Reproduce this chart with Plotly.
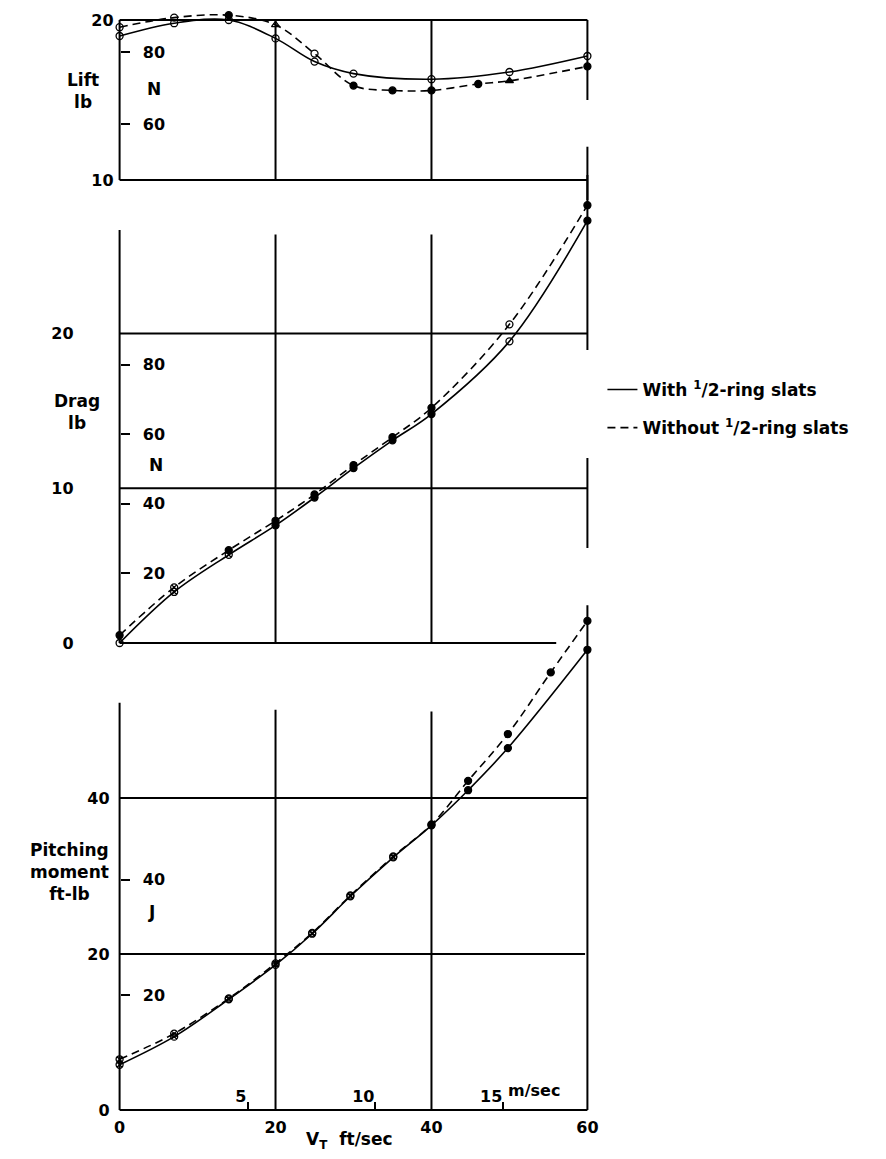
import plotly.graph_objects as go

# ---------------- data ----------------
V_lift_with = [0, 7, 14, 20, 25, 30, 40, 50, 60]
lift_with = [19.0, 19.8, 20.0, 18.85, 17.4, 16.65, 16.3, 16.75, 17.75]
V_lift_without = [0, 7, 14, 20, 25, 30, 35, 40, 46, 50, 60]
lift_without = [19.55, 20.15, 20.3, 19.7, 17.9, 15.9, 15.6, 15.6, 16.0, 16.2, 17.1]

V_drag = [0, 7, 14, 20, 25, 30, 35, 40, 50, 60]
drag_with = [0.0, 3.3, 5.7, 7.6, 9.4, 11.3, 13.1, 14.8, 19.5, 27.3]
drag_without = [0.5, 3.6, 6.0, 7.9, 9.6, 11.5, 13.3, 15.2, 20.6, 28.3]

V_pitch_with = [0, 7, 14, 20, 24.7, 29.6, 35.1, 40, 44.7, 49.8, 60]
pitch_with = [5.8, 9.4, 14.2, 18.6, 22.6, 27.4, 32.4, 36.5, 41.0, 46.4, 59.0]
V_pitch_without = [0, 7, 14, 20, 24.7, 29.6, 35.1, 40, 44.7, 49.8, 55.3, 60]
pitch_without = [6.5, 9.8, 14.3, 18.8, 22.7, 27.5, 32.5, 36.6, 42.2, 48.2, 56.1, 62.7]

x_ticks = [0, 20, 40, 60]
ms_ticks = [5, 10, 15]
lift_ticks = [10, 20]
drag_ticks = [0, 10, 20]
pitch_ticks = [0, 20, 40]
N_lift_ticks = [60, 80]
N_drag_ticks = [20, 40, 60, 80]
J_ticks = [20, 40]
series_names = ["With <sup>1</sup>/2-ring slats", "Without <sup>1</sup>/2-ring slats"]

LB_TO_N = 4.44822
FTLB_TO_J = 1.35582
FT_TO_M = 0.3048

# ---------------- layout geometry (page pixels) ----------------
W, H_PAGE = 886, 1159
OFF = 8                       # default page body margin
FIG_W, FIG_H = W - 2 * OFF, H_PAGE - 2 * OFF
PXU = (587 - 120) / 60.0      # px per ft/s
XR = [-2, 62]
L_PAGE = 120 + XR[0] * PXU
R_PAGE = 587 + (XR[1] - 60) * PXU
PT, PB = OFF, 1125            # plot area top / bottom (page px)


def xp(px):
    return (px - L_PAGE) / (R_PAGE - L_PAGE)


def yp(py):
    return (PB - py) / (PB - PT)


def dom(top, bottom):
    return [yp(bottom), yp(top)]


# lift panel: 10 lb at py 180, 16 px/lb
lift_px, lift_ref_py, lift_base = 16.0, 180.0, 10.0
lift_top, lift_bot = PT, 200
lift_range = [lift_base - (lift_bot - lift_ref_py) / lift_px,
              lift_base + (lift_ref_py - lift_top) / lift_px]
# drag panel: 0 lb at py 643, 15.47 px/lb
drag_px, drag_zero = 15.47, 643.0
drag_top, drag_bot = 150, 662
drag_range = [-(drag_bot - drag_zero) / drag_px, (drag_zero - drag_top) / drag_px]
# pitching panel: 0 at py 1110, 7.8 px/ft-lb
pit_px, pit_zero = 7.8, 1110.0
pit_top, pit_bot = 600, PB
pit_range = [-(pit_bot - pit_zero) / pit_px, (pit_zero - pit_top) / pit_px]

FONT = "DejaVu Sans"
BLK = "black"
dash = "8px,5px"

fig = go.Figure()


def curve(x, y, yaxis, dashed, name=None, legend=False, group=None):
    fig.add_trace(go.Scatter(
        x=x, y=y, mode="lines", xaxis="x", yaxis=yaxis,
        line=dict(color=BLK, width=1.6, shape="spline", smoothing=1.0,
                  dash=dash if dashed else "solid"),
        name=name, showlegend=legend, legendgroup=group, hoverinfo="skip"))


def points(x, y, yaxis, symbols):
    fig.add_trace(go.Scatter(
        x=x, y=y, mode="markers", xaxis="x", yaxis=yaxis, showlegend=False,
        marker=dict(symbol=symbols, size=7, color=BLK, line=dict(color=BLK, width=1.3)),
        cliponaxis=False, hoverinfo="skip"))


# Lift
curve(V_lift_with, lift_with, "y", False, series_names[0], True, "a")
curve(V_lift_without, lift_without, "y", True, series_names[1], True, "b")
points(V_lift_with, lift_with, "y", "circle-open")
points(V_lift_without, lift_without, "y",
       ["circle-open", "circle-open", "circle", "triangle-up-open", "circle-open", "circle",
        "circle", "circle", "circle", "triangle-up", "circle"])
# Drag
curve(V_drag, drag_with, "y2", False)
curve(V_drag, drag_without, "y2", True)
points(V_drag, drag_with, "y2",
       ["circle-open", "circle-x-open", "circle-x-open", "circle", "circle", "circle",
        "circle", "circle", "circle-open", "circle"])
points(V_drag, drag_without, "y2",
       ["circle", "circle-x-open", "circle", "circle", "circle", "circle",
        "circle", "circle", "circle-open", "circle"])
# Pitching moment
curve(V_pitch_with, pitch_with, "y3", False)
curve(V_pitch_without, pitch_without, "y3", True)
points(V_pitch_with, pitch_with, "y3", ["circle-x-open"] * 7 + ["circle"] * 4)
points(V_pitch_without, pitch_without, "y3", ["circle-x-open"] * 7 + ["circle"] * 5)

# ---------------- frame / grid lines ----------------
shapes = []


def seg(yref, x0, y0, x1, y1, w=2):
    shapes.append(dict(type="line", xref="x", yref=yref, x0=x0, y0=y0, x1=x1, y1=y1,
                       line=dict(color=BLK, width=w), layer="above"))


# lift grid
seg("y", 0, 20, 60, 20)
seg("y", 0, 10, 60, 10)
for xv in (0, 20, 40):
    seg("y", xv, 10, xv, 20)
seg("y", 60, 15.0, 60, 20)
seg("y", 60, lift_range[0], 60, 12.08)
# drag grid
seg("y2", 60, 18.94, 60, (drag_zero - 175) / drag_px)
seg("y2", 60, 6.14, 60, 11.96)
seg("y2", 0, 20, 60, 20)
seg("y2", 0, 10, 60, 10)
seg("y2", 0, 0, 56, 0)
seg("y2", 0, 0, 0, 26.7)
seg("y2", 20, 0, 20, 26.4)
seg("y2", 40, 0, 40, 26.4)
# pitching grid
seg("y3", 60, 0, 60, 64.7)
seg("y3", 0, 0, 0, 52.2)
seg("y3", 20, 0, 20, 51.3)
seg("y3", 40, 0, 40, 51.1)
seg("y3", 0, 40, 60, 40)
seg("y3", 0, 20, 59.7, 20)
seg("y3", 0, 0, 60, 0)

# ---------------- annotations ----------------
ann = []


def text(t, px, py, size=17, xanchor="center", align="center"):
    ann.append(dict(text=t, x=xp(px), y=yp(py), xref="paper", yref="paper",
                    showarrow=False, xanchor=xanchor, yanchor="middle", align=align,
                    font=dict(family=FONT, size=size, color=BLK, weight="bold")))


text("Lift<br>lb", 83, 91)
text("Drag<br>lb", 77, 412)
text("Pitching<br>moment<br>ft-lb", 70, 872)
text("N", 154, 89)
text("N", 156, 465)
text("J", 152, 912)
text("m/sec", 506, 1090, size=16, xanchor="left")
text("V<sub>T</sub>\u00a0\u00a0ft/sec", 350, 1140)

yaxis_x_pos = xp(120)
tickfont = dict(family=FONT, size=16, color=BLK, weight="bold")


def yax(domain, rng, ticks, standoff):
    return dict(domain=domain, range=rng, anchor="free", position=yaxis_x_pos,
                tickvals=ticks, ticks="", showgrid=False, zeroline=False, showline=False,
                ticklabelstandoff=standoff, tickfont=tickfont)


def sec_yax(over, rng, ticks):
    return dict(overlaying=over, range=rng, anchor="free", position=yaxis_x_pos, side="right",
                tickvals=ticks, ticks="outside", ticklen=9, tickwidth=2, tickcolor=BLK,
                ticklabelstandoff=10,
                showgrid=False, zeroline=False, showline=False, tickfont=tickfont)


fig.update_layout(
    width=FIG_W, height=FIG_H, autosize=False,
    margin=dict(l=L_PAGE - OFF, r=(W - OFF) - R_PAGE, t=PT - OFF, b=(H_PAGE - OFF) - PB, pad=0),
    paper_bgcolor="white", plot_bgcolor="rgba(0,0,0,0)",
    font=dict(family=FONT, size=16, color=BLK),
    xaxis=dict(range=XR, anchor="free", position=yp(1110), tickvals=x_ticks, ticks="",
               showgrid=False, zeroline=False, showline=False, ticklabelstandoff=6,
               tickfont=tickfont),
    xaxis2=dict(overlaying="x", range=[XR[0] * FT_TO_M, XR[1] * FT_TO_M], anchor="free",
                position=yp(1110), side="top", tickvals=ms_ticks,
                ticktext=[str(v) for v in ms_ticks], ticks="outside", ticklen=8, tickwidth=2,
                tickcolor=BLK, ticklabelposition="outside left", ticklabelstandoff=2,
                showgrid=False, zeroline=False, showline=False, tickfont=tickfont),
    yaxis=yax(dom(lift_top, lift_bot), lift_range, lift_ticks, 6),
    yaxis2=yax(dom(drag_top, drag_bot), drag_range, drag_ticks, 46),
    yaxis3=yax(dom(pit_top, pit_bot), pit_range, pitch_ticks, 10),
    yaxis4=sec_yax("y", [v * LB_TO_N for v in lift_range], N_lift_ticks),
    yaxis5=sec_yax("y2", [v * LB_TO_N for v in drag_range], N_drag_ticks),
    yaxis6=sec_yax("y3", [v * FTLB_TO_J for v in pit_range], J_ticks),
    shapes=shapes,
    annotations=ann,
    showlegend=True,
    legend=dict(x=xp(602), y=yp(372), xanchor="left", yanchor="top",
                bgcolor="rgba(0,0,0,0)", borderwidth=0, tracegroupgap=13,
                traceorder="grouped",
                font=dict(family=FONT, size=17, color=BLK, weight="bold")),
)

# invisible traces so that the secondary axes are drawn
fig.add_trace(go.Scatter(x=[None], y=[None], xaxis="x2", yaxis="y3", showlegend=False))
for ya in ("y4", "y5", "y6"):
    fig.add_trace(go.Scatter(x=[None], y=[None], xaxis="x", yaxis=ya, showlegend=False))

fig.write_html("out.html")
